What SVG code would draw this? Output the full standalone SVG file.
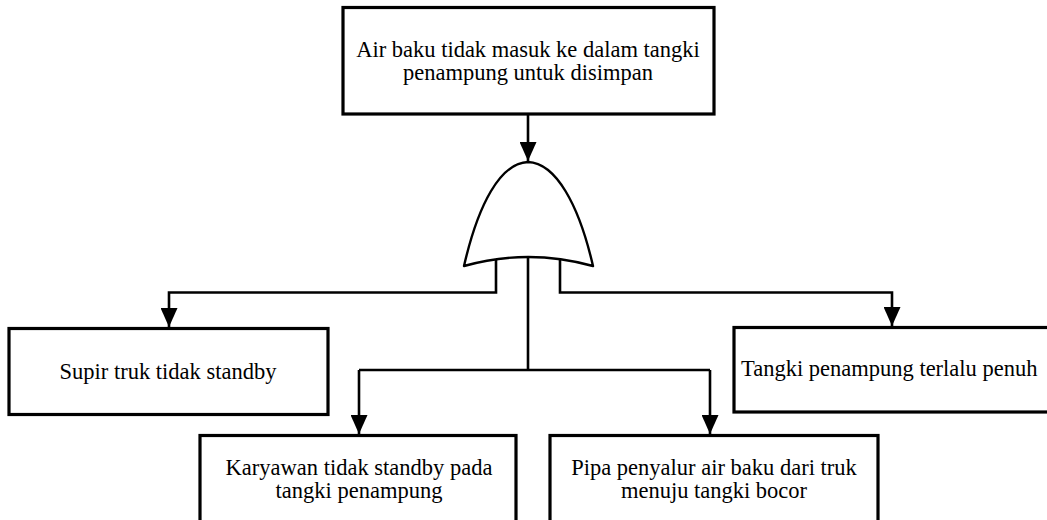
<svg xmlns="http://www.w3.org/2000/svg" width="1047" height="520" viewBox="0 0 1047 520">
  <style>
    .box { fill: #ffffff; stroke: #000000; stroke-width: 3.2; }
    .gate { fill: #ffffff; stroke: #000000; stroke-width: 2.4; stroke-linejoin: round; }
    .wire { fill: none; stroke: #000000; stroke-width: 2.6; stroke-linejoin: miter; }
    .label { font-family: "Liberation Serif", "Times New Roman", serif; font-size: 22.5px; fill: #000000; text-anchor: middle; }
  </style>
  <defs>
    <marker id="arrow" markerUnits="userSpaceOnUse" viewBox="0 0 19 17" refX="19" refY="8.5" markerWidth="19" markerHeight="17" orient="auto">
      <path d="M0,0 L19,8.5 L0,17 Z" fill="#000000"/>
    </marker>
  </defs>
  <rect width="1047" height="520" fill="#ffffff"/>

  <!-- connectors -->
  <g id="connectors">
    <path class="wire" d="M528,114 V161" marker-end="url(#arrow)"/>
    <path class="wire" d="M496,259 V292.5 H169 V327" marker-end="url(#arrow)"/>
    <path class="wire" d="M560,259 V292.5 H892 V326" marker-end="url(#arrow)"/>
    <path class="wire" d="M528,257 V370"/>
    <path class="wire" d="M359,370 H710"/>
    <path class="wire" d="M359,370 V434" marker-end="url(#arrow)"/>
    <path class="wire" d="M710,370 V434" marker-end="url(#arrow)"/>
  </g>

  <!-- top event -->
  <g id="top-event">
    <rect class="box" x="343" y="7.5" width="371" height="106.5"/>
    <text class="label" x="528" y="57">Air baku tidak masuk ke dalam tangki</text>
    <text class="label" x="528" y="80">penampung untuk disimpan</text>
  </g>

  <!-- OR gate -->
  <g id="or-gate">
    <path class="gate" d="M464,266 C478,205 500,163 528,162 C556,163 579,205 593,266 Q528,248 464,266 Z"/>
  </g>

  <g id="supir">
    <rect class="box" x="9" y="328.5" width="319" height="86"/>
    <text class="label" x="168" y="379">Supir truk tidak standby</text>
  </g>

  <g id="tangki">
    <rect class="box" x="734" y="327.5" width="340" height="84.5"/>
    <text class="label" x="741" y="376" style="text-anchor: start">Tangki penampung terlalu penuh</text>
  </g>

  <g id="karyawan">
    <rect class="box" x="200" y="435.5" width="316" height="90"/>
    <text class="label" x="359" y="475">Karyawan tidak standby pada</text>
    <text class="label" x="359" y="498">tangki penampung</text>
  </g>

  <g id="pipa">
    <rect class="box" x="550" y="435.5" width="328" height="90"/>
    <text class="label" x="714" y="475">Pipa penyalur air baku dari truk</text>
    <text class="label" x="714" y="498">menuju tangki bocor</text>
  </g>
</svg>
